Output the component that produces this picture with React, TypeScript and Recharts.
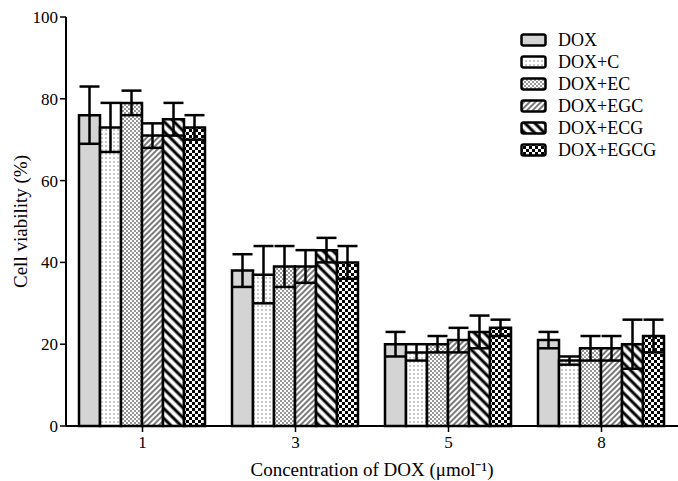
import React from 'react';
import { BarChart, Bar, XAxis, YAxis, ErrorBar } from 'recharts';

const categories = ['1', '3', '5', '8'];
const seriesNames = ['DOX', 'DOX+C', 'DOX+EC', 'DOX+EGC', 'DOX+ECG', 'DOX+EGCG'];

const dox = [76, 38, 20, 21];
const doxErr = [7, 4, 3, 2];
const doxC = [73, 37, 18, 16];
const doxCErr = [6, 7, 2, 1];
const doxEC = [79, 39, 20, 19];
const doxECErr = [3, 5, 2, 3];
const doxEGC = [71, 39, 21, 19];
const doxEGCErr = [3, 4, 3, 3];
const doxECG = [75, 43, 23, 20];
const doxECGErr = [4, 3, 4, 6];
const doxEGCG = [73, 40, 24, 22];
const doxEGCGErr = [3, 4, 2, 4];

const yTicks = [0, 20, 40, 60, 80, 100];

const values = [dox, doxC, doxEC, doxEGC, doxECG, doxEGCG];
const errors = [doxErr, doxCErr, doxECErr, doxEGCErr, doxECGErr, doxEGCGErr];

const data = categories.map((c, i) => {
  const row: Record<string, string | number> = { conc: c };
  seriesNames.forEach((_, s) => {
    row['v' + s] = values[s][i];
    row['e' + s] = errors[s][i];
  });
  return row;
});

const fills = ['#d4d4d4', 'url(#pC)', 'url(#pEC)', 'url(#pEGC)', 'url(#pECG)', 'url(#pEGCG)'];

const font = '"Liberation Serif", "Times New Roman", serif';

const Patterns = () => (
  <svg width={0} height={0} style={{ position: 'absolute' }}>
    <defs>
      <pattern id="pC" patternUnits="userSpaceOnUse" width={4} height={4}>
        <rect width={4} height={4} fill="#fff" />
        <circle cx={2} cy={2} r={0.8} fill="#888" />
      </pattern>
      <pattern id="pEC" patternUnits="userSpaceOnUse" width={4} height={4}>
        <rect width={4} height={4} fill="#fff" />
        <circle cx={1} cy={1} r={0.9} fill="#666" />
        <circle cx={3} cy={3} r={0.9} fill="#666" />
      </pattern>
      <pattern id="pEGC" patternUnits="userSpaceOnUse" width={4} height={4} patternTransform="rotate(45)">
        <rect width={4} height={4} fill="#fff" />
        <line x1={1} y1={0} x2={1} y2={4} stroke="#333" strokeWidth={1.3} />
      </pattern>
      <pattern id="pECG" patternUnits="userSpaceOnUse" width={7} height={7} patternTransform="rotate(-45)">
        <rect width={7} height={7} fill="#fff" />
        <line x1={2} y1={0} x2={2} y2={7} stroke="#000" strokeWidth={3} />
      </pattern>
      <pattern id="pEGCG" patternUnits="userSpaceOnUse" width={6} height={6}>
        <rect width={6} height={6} fill="#fff" />
        <rect width={3} height={3} fill="#000" />
        <rect x={3} y={3} width={3} height={3} fill="#000" />
      </pattern>
    </defs>
  </svg>
);

const ChartLegend = () => (
  <div style={{ position: 'absolute', left: 520, top: 29, fontFamily: font, fontSize: 18, color: '#000' }}>
    {seriesNames.map((name, i) => (
      <div key={name} style={{ height: 22, display: 'flex', alignItems: 'center' }}>
        <svg width={28} height={14} style={{ marginRight: 10 }}>
          <rect x={1.5} y={1.5} width={24} height={11} rx={2} fill={fills[i]} stroke="#000" strokeWidth={2.5} />
        </svg>
        <span>{name}</span>
      </div>
    ))}
  </div>
);

export default function App() {
  return (
    <div style={{ position: 'absolute', left: 0, top: 0, width: 678, height: 481, background: '#fff' }}>
      <Patterns />
      <BarChart
        width={678}
        height={481}
        data={data}
        margin={{ top: 17, right: 0, left: 0, bottom: 5 }}
        barCategoryGap="8.5%"
        barGap={0}
      >
        <XAxis
          dataKey="conc"
          height={50}
          tick={{ fontSize: 17, fill: '#000', fontFamily: font }}
          tickSize={6}
          tickMargin={4}
          axisLine={{ stroke: '#000', strokeWidth: 2 }}
          tickLine={{ stroke: '#000', strokeWidth: 1.5 }}
          label={{ value: 'Concentration of DOX (μmol⁻¹)', position: 'insideBottom', offset: 0, fill: '#000', fontSize: 19, fontFamily: font }}
        />
        <YAxis
          width={66}
          domain={[0, 100]}
          ticks={yTicks}
          tick={{ fontSize: 17, fill: '#000', fontFamily: font }}
          tickSize={6}
          axisLine={{ stroke: '#000', strokeWidth: 2 }}
          tickLine={{ stroke: '#000', strokeWidth: 1.5 }}
          label={{ value: 'Cell viability (%)', angle: -90, position: 'insideLeft', offset: 20, fill: '#000', fontSize: 19, fontFamily: font, style: { textAnchor: 'middle' } }}
        />
        {seriesNames.map((name, s) => (
          <Bar
            key={name}
            dataKey={'v' + s}
            name={name}
            fill={fills[s]}
            stroke="#000"
            strokeWidth={2.5}
            isAnimationActive={false}
          >
            <ErrorBar dataKey={'e' + s} width={10} stroke="#000" strokeWidth={2.5} direction="y" />
          </Bar>
        ))}
      </BarChart>
      <ChartLegend />
    </div>
  );
}
